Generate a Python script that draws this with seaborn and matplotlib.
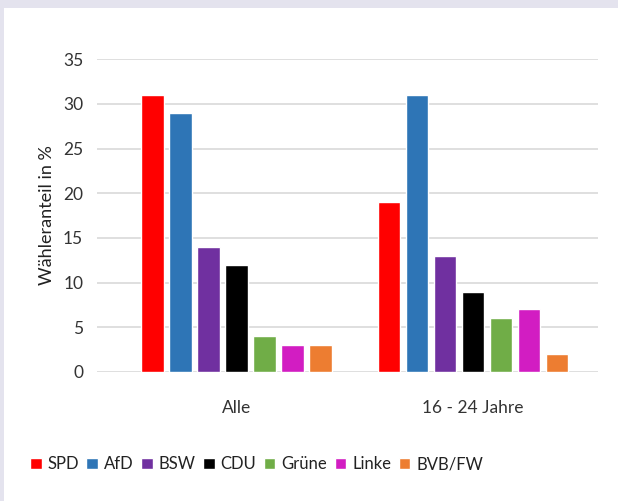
import numpy as np
import pandas as pd
import matplotlib
matplotlib.use("Agg")
import matplotlib.pyplot as plt
import seaborn as sns
from matplotlib.patches import Rectangle

# Daten
gruppen = ["Alle", "16 - 24 Jahre"]
parteien = ["SPD", "AfD", "BSW", "CDU", "Grüne", "Linke", "BVB/FW"]
werte_alle = [31, 29, 14, 12, 4, 3, 3]
werte_jung = [19, 31, 13, 9, 6, 7, 2]
farben = ["#FF0000", "#2E75B6", "#7030A0", "#000000", "#70AD47", "#D21DC2", "#ED7D31"]

df = pd.DataFrame({
    "Gruppe": [gruppen[0]] * len(parteien) + [gruppen[1]] * len(parteien),
    "Partei": parteien + parteien,
    "Wert": werte_alle + werte_jung,
})

sns.set_style("white")
plt.rcParams["font.family"] = ["Lato", "DejaVu Sans"]

fig = plt.figure(figsize=(6.18, 5.01), dpi=100)
fig.patch.set_facecolor("#E4E3EE")
fig.patches.append(Rectangle((4 / 618, 0), 1, 1 - 8 / 501, transform=fig.transFigure,
                             facecolor="white", edgecolor="none", zorder=-5))
ax = fig.add_axes([0.157, 0.2575, 0.811, 0.6245])
ax.set_facecolor("none")

sns.barplot(data=df, x="Gruppe", y="Wert", hue="Partei", hue_order=parteien,
            palette=farben, width=0.83, gap=0.2, saturation=1, ax=ax,
            legend=True, zorder=3)

ax.set_ylim(0, 35)
ax.set_yticks(range(0, 36, 5))
ax.set_xlim(-0.59, 1.53)
ax.yaxis.grid(True, color="#D9D9D9", linewidth=1.2, zorder=0)
ax.set_axisbelow(True)
for s in ax.spines.values():
    s.set_visible(False)
ax.tick_params(axis="both", length=0, labelsize=12.5, colors="#333333")
ax.tick_params(axis="y", pad=10)
ax.tick_params(axis="x", pad=20)
ax.set_xlabel("")
ax.set_ylabel("Wähleranteil in %", fontsize=13, color="#222222", labelpad=6)

ax.legend(loc="center", bbox_to_anchor=(0.318, -0.295), ncol=7,
          frameon=False, fontsize=12, handlelength=0.7, handleheight=0.7,
          handletextpad=0.35, columnspacing=0.45, labelcolor="#222222")

fig.savefig("out.png", dpi=100, facecolor=fig.get_facecolor())
